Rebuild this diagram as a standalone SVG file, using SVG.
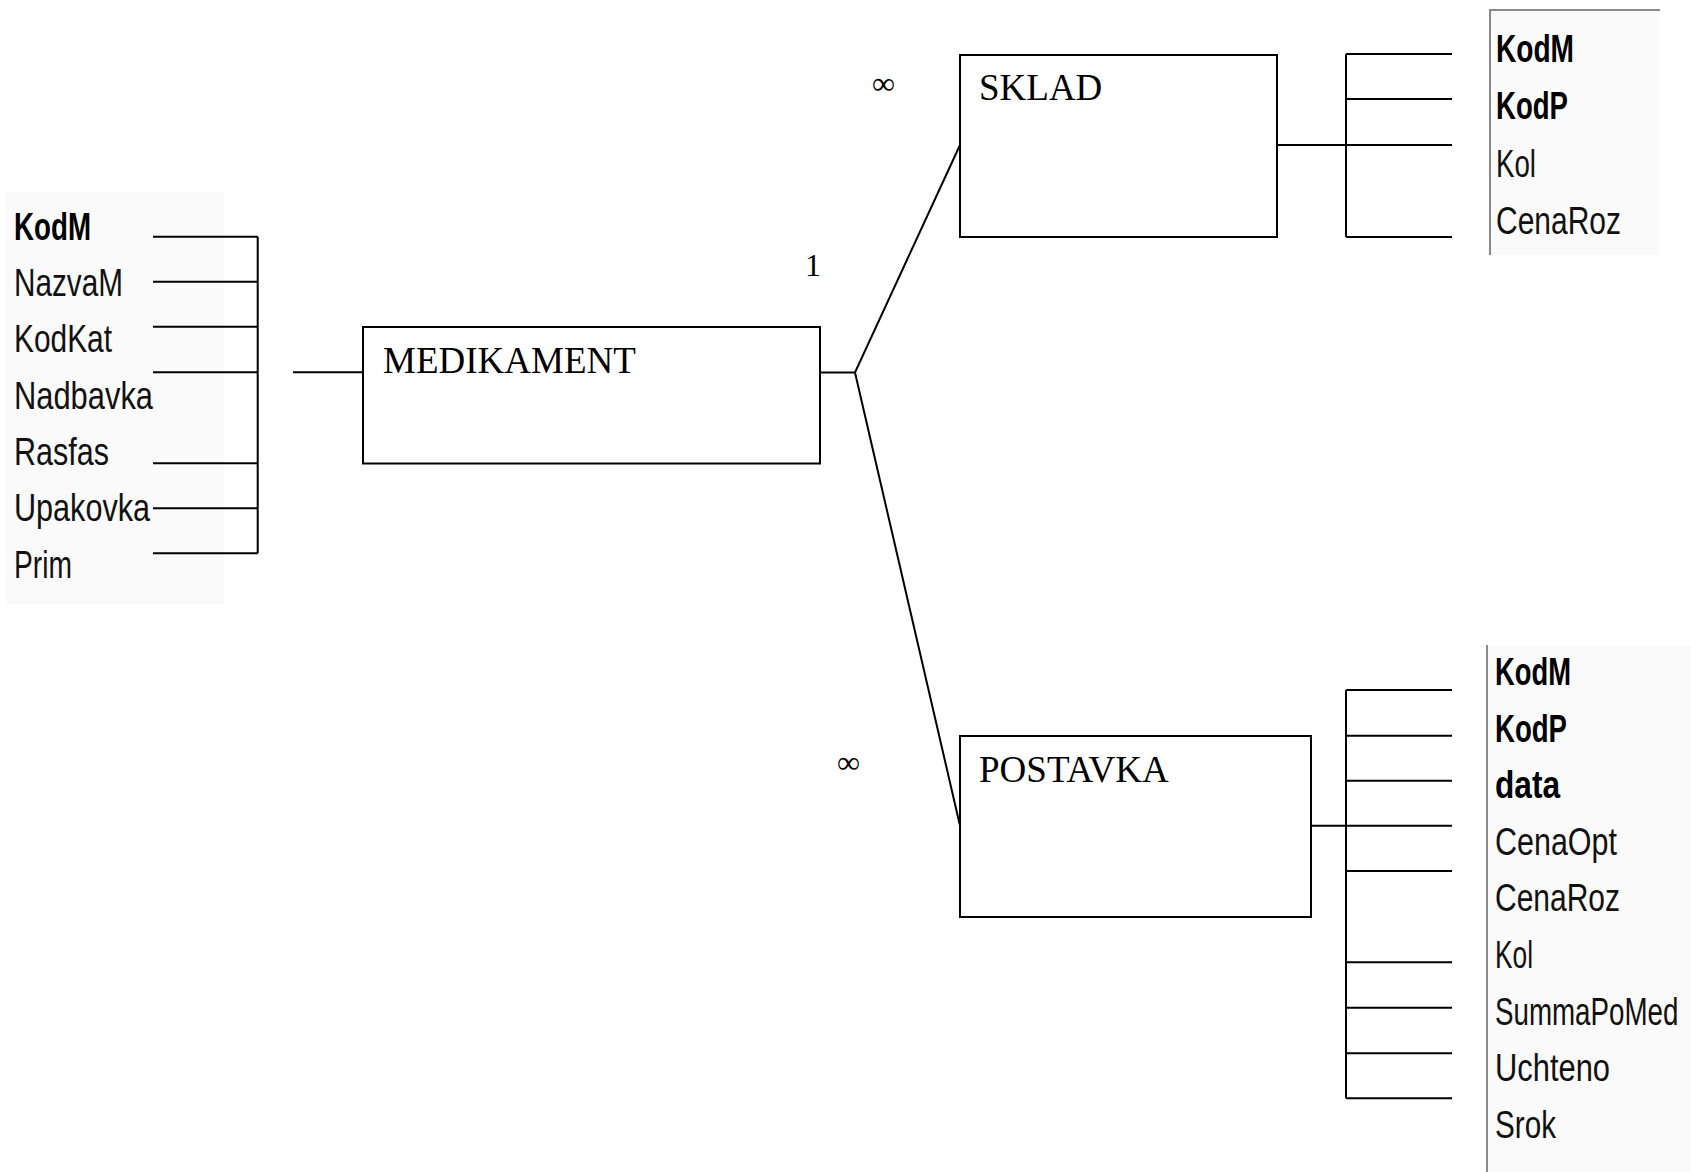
<svg xmlns="http://www.w3.org/2000/svg" width="1691" height="1172" viewBox="0 0 1691 1172">
  <style>
    .ln { stroke: #000; stroke-width: 2; fill: none; }
    .box { stroke: #000; stroke-width: 2; fill: #fff; }
    .ent { font-family: "Liberation Serif", "Times New Roman", serif; font-size: 37px; fill: #000; }
    .card { font-family: "Liberation Serif", "Times New Roman", serif; font-size: 32px; fill: #000; }
    .fld { font-family: "Liberation Sans", Arial, sans-serif; font-size: 38px; fill: #111; }
    .key { font-weight: bold; fill: #000; }
    .panel { fill: #fafafa; stroke: none; }
    .edge { stroke: #8a8a8a; stroke-width: 2; fill: none; }
  </style>
  <rect width="1691" height="1172" fill="#fff"/>

  <!-- field list of MEDIKAMENT -->
  <g id="fields-medikament">
    <rect class="panel" x="6" y="192" width="218" height="412"/>
    <text class="fld key" x="14" y="240" textLength="77" lengthAdjust="spacingAndGlyphs">KodM</text>
    <text class="fld" x="14" y="296" textLength="109" lengthAdjust="spacingAndGlyphs">NazvaM</text>
    <text class="fld" x="14" y="352" textLength="98" lengthAdjust="spacingAndGlyphs">KodKat</text>
    <text class="fld" x="14" y="409" textLength="139" lengthAdjust="spacingAndGlyphs">Nadbavka</text>
    <text class="fld" x="14" y="465" textLength="95" lengthAdjust="spacingAndGlyphs">Rasfas</text>
    <text class="fld" x="14" y="521" textLength="136" lengthAdjust="spacingAndGlyphs">Upakovka</text>
    <text class="fld" x="14" y="578" textLength="58" lengthAdjust="spacingAndGlyphs">Prim</text>
  </g>

  <!-- field list of SKLAD -->
  <g id="fields-sklad">
    <rect class="panel" x="1490" y="10" width="170" height="245"/>
    <path class="edge" d="M1490,255 V10 H1660"/>
    <text class="fld key" x="1496" y="62" textLength="78" lengthAdjust="spacingAndGlyphs">KodM</text>
    <text class="fld key" x="1496" y="119" textLength="72" lengthAdjust="spacingAndGlyphs">KodP</text>
    <text class="fld" x="1496" y="177" textLength="40" lengthAdjust="spacingAndGlyphs">Kol</text>
    <text class="fld" x="1496" y="234" textLength="125" lengthAdjust="spacingAndGlyphs">CenaRoz</text>
  </g>

  <!-- field list of POSTAVKA -->
  <g id="fields-postavka">
    <rect class="panel" x="1487" y="645" width="204" height="527"/>
    <path class="edge" d="M1487,645 V1172"/>
    <text class="fld key" x="1495" y="685" textLength="76" lengthAdjust="spacingAndGlyphs">KodM</text>
    <text class="fld key" x="1495" y="742" textLength="72" lengthAdjust="spacingAndGlyphs">KodP</text>
    <text class="fld key" x="1495" y="798" textLength="65" lengthAdjust="spacingAndGlyphs">data</text>
    <text class="fld" x="1495" y="855" textLength="122" lengthAdjust="spacingAndGlyphs">CenaOpt</text>
    <text class="fld" x="1495" y="911" textLength="125" lengthAdjust="spacingAndGlyphs">CenaRoz</text>
    <text class="fld" x="1495" y="968" textLength="38" lengthAdjust="spacingAndGlyphs">Kol</text>
    <!-- longest field name: horizontally condensed so it stays inside the panel -->
    <text class="fld" transform="translate(1495,1025) scale(0.73,1)">SummaPoMed</text>
    <text class="fld" x="1495" y="1081" textLength="115" lengthAdjust="spacingAndGlyphs">Uchteno</text>
    <text class="fld" x="1495" y="1138" textLength="61" lengthAdjust="spacingAndGlyphs">Srok</text>
  </g>

  <!-- connectors -->
  <g id="connectors">
    <!-- MEDIKAMENT field brace -->
    <path class="ln" d="M153,236.7 H257.7 M153,281.7 H257.7 M153,326.7 H257.7 M153,372.3 H257.7 M153,463.3 H257.7 M153,508.3 H257.7 M153,553.3 H257.7 M257.7,236.7 V553.3"/>
    <path class="ln" d="M293,372.3 H363"/>
    <!-- relationship lines -->
    <path class="ln" d="M820,372.5 H855 L960,145 M855,372.5 L960,825.7"/>
    <!-- SKLAD field brace -->
    <path class="ln" d="M1277,145 H1346 M1346,54 V237 M1346,54 H1452 M1346,99 H1452 M1346,145 H1452 M1346,237 H1452"/>
    <!-- POSTAVKA field brace -->
    <path class="ln" d="M1311,825.7 H1346 M1346,690 V1098.3 M1346,690 H1452 M1346,735.7 H1452 M1346,780.7 H1452 M1346,825.7 H1452 M1346,871 H1452 M1346,962.3 H1452 M1346,1007.7 H1452 M1346,1053.3 H1452 M1346,1098.3 H1452"/>
    <!-- cardinality marks -->
    <text class="card" x="805" y="276">1</text>
    <text class="card" x="872" y="94">∞</text>
    <text class="card" x="837" y="773">∞</text>
  </g>

  <g id="medikament">
    <rect class="box" x="363" y="327" width="457" height="136.5"/>
    <text class="ent" x="383" y="373">MEDIKAMENT</text>
  </g>
  <g id="sklad">
    <rect class="box" x="960" y="55" width="317" height="182"/>
    <text class="ent" x="979" y="100">SKLAD</text>
  </g>
  <g id="postavka">
    <rect class="box" x="960" y="736" width="351" height="181"/>
    <text class="ent" x="979" y="782">POSTAVKA</text>
  </g>
</svg>
